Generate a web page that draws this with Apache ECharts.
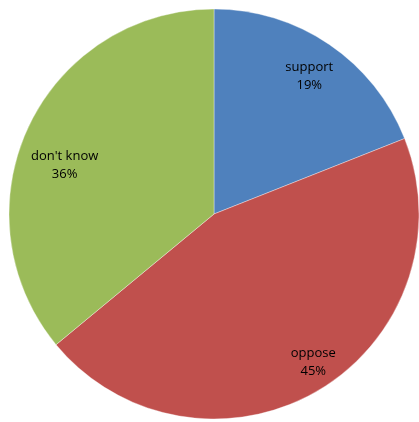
<!DOCTYPE html>
<html>
<head>
<meta charset="utf-8">
<script src="https://cdn.jsdelivr.net/npm/echarts@6/dist/echarts.min.js"></script>
<style>
html,body{margin:0;padding:0;background:#fff;}
#chart{width:419px;height:422px;}
</style>
</head>
<body>
<div id="chart"></div>
<script>
const categories = ["support", "oppose", "don't know"];
const values = [19, 45, 36];

// styling only
const colors = ["#4F81BD", "#C0504D", "#9BBB59"];
const labelOffsets = [[0, 2], [13, 2], [4, 23]];

const chart = echarts.init(document.getElementById('chart'));
chart.setOption({
  animation: false,
  series: [
    {
      type: 'pie',
      center: [214, 214],
      radius: [0, 205],
      startAngle: 90,
      clockwise: true,
      silent: true,
      itemStyle: { borderColor: 'rgba(255,255,255,0.6)', borderWidth: 0.6 },
      label: { show: false },
      labelLine: { show: false },
      data: categories.map((c, i) => ({ name: c, value: values[i], itemStyle: { color: colors[i] } }))
    },
    {
      type: 'pie',
      center: [214, 214],
      radius: [128, 205],
      startAngle: 90,
      clockwise: true,
      silent: true,
      itemStyle: { color: 'transparent', borderWidth: 0 },
      label: {
        show: true,
        position: 'inside',
        formatter: '{b}\n{d}%',
        fontFamily: 'Open Sans, Liberation Sans, sans-serif',
        fontSize: 13,
        color: '#000',
        lineHeight: 18
      },
      labelLine: { show: false },
      data: categories.map((c, i) => ({ name: c, value: values[i], label: { offset: labelOffsets[i] } }))
    }
  ]
});
</script>
</body>
</html>
